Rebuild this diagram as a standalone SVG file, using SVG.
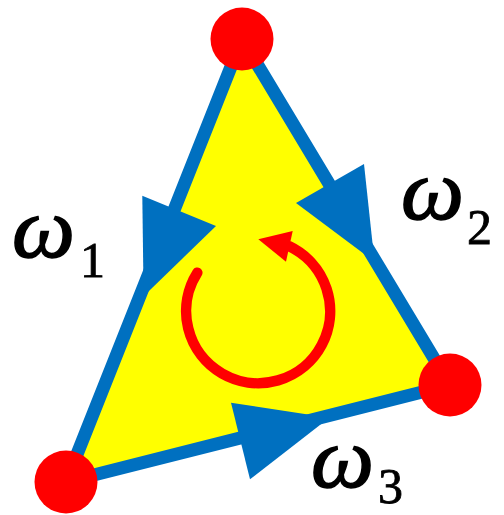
<svg xmlns="http://www.w3.org/2000/svg" width="504" height="515" viewBox="0 0 504 515">
<style>
.edge{stroke:#0070C0;stroke-width:13;fill:none;stroke-linecap:round}
.head{fill:#0070C0;stroke:none}
.vertex{fill:#FF0000;stroke:none}
.omega{font-family:"Liberation Serif","DejaVu Serif",serif;font-style:italic;font-size:86px;fill:#000;stroke:#000;stroke-width:1.5}
.sub{font-family:"Liberation Serif","DejaVu Serif",serif;font-size:50px;fill:#000;stroke:#000;stroke-width:0.8}
.loop{stroke:#FF0000;stroke-width:10.5;fill:none;stroke-linecap:round}
</style>
<rect width="504" height="515" fill="#FFFFFF"/>
<g id="face">
<polygon points="242,39 66,482 450,385" fill="#FFFF00"/>
</g>
<g id="connectors">
<line class="edge" x1="242" y1="39" x2="66" y2="482"/>
<line class="edge" x1="242" y1="39" x2="450" y2="385"/>
<line class="edge" x1="66" y1="482" x2="450" y2="385"/>
<polygon class="head" points="142.3,195.7 216,226 143.6,296.2"/>
<polygon class="head" points="296,203 364,164 374.5,261.7"/>
<polygon class="head" points="231,402.7 250,479.3 329.3,417.8"/>
</g>
<g id="node-top"><circle class="vertex" cx="242" cy="39" r="31.5"/></g>
<g id="node-left"><circle class="vertex" cx="66" cy="482" r="31.5"/></g>
<g id="node-right"><circle class="vertex" cx="450" cy="385" r="31.5"/></g>
<g id="rotation">
<path class="loop" d="M 197.3 272.7 A 72 72 0 1 0 289.3 246.3"/>
<polygon fill="#FF0000" points="258.3,239.3 292.7,231 286,261.7"/>
</g>
<g id="label-w1"><text class="omega" x="12" y="257" textLength="63" lengthAdjust="spacingAndGlyphs">ω</text><text class="sub" x="80" y="277">1</text></g>
<g id="label-w2"><text class="omega" x="401" y="219" textLength="63" lengthAdjust="spacingAndGlyphs">ω</text><text class="sub" x="467" y="244">2</text></g>
<g id="label-w3"><text class="omega" x="311" y="487" textLength="63" lengthAdjust="spacingAndGlyphs">ω</text><text class="sub" x="378" y="503">3</text></g>
</svg>
